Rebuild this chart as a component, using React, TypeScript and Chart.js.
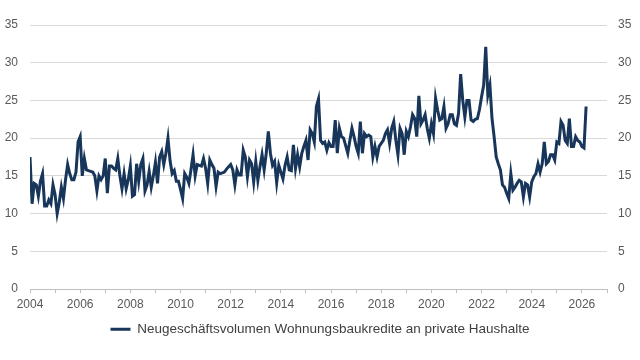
import { useEffect, useRef } from "react";
import { Chart, registerables } from "chart.js";

Chart.register(...registerables);

// Monthly series, January 2004 onwards (EUR bn)
const startYear = 2004;
const seriesLabel = "Neugeschäftsvolumen Wohnungsbaukredite an private Haushalte";

const volumes: number[] = [
  // 2004
  17.5, 11.3, 14.0, 13.8, 12.3, 14.3, 15.3, 11.0, 11.0, 11.8, 11.3, 13.8,
  // 2005
  12.5, 10.0, 11.5, 13.5, 12.0, 14.5, 16.5, 15.3, 14.5, 14.5, 15.5, 19.5,
  // 2006
  20.2, 15.0, 17.3, 15.8, 15.7, 15.6, 15.5, 15.0, 13.0, 15.0, 14.5, 15.0,
  // 2007
  17.3, 12.7, 16.3, 16.3, 16.0, 15.8, 17.3, 15.0, 13.3, 15.3, 13.3, 14.5,
  // 2008
  16.3, 12.3, 12.5, 16.6, 14.3, 16.5, 17.3, 13.0, 13.8, 15.6, 13.5, 15.0,
  // 2009
  16.8, 14.0, 17.5, 18.2, 16.5, 18.0, 20.0, 17.0, 15.3, 15.7, 14.3, 14.3,
  // 2010
  13.2, 12.0, 15.3, 14.8, 14.0, 15.8, 17.8, 15.0, 16.5, 16.4, 16.3, 17.3,
  // 2011
  16.0, 14.0, 17.1, 16.5, 16.0, 13.6, 15.5, 15.3, 15.4, 15.5, 15.9, 16.2,
  // 2012
  16.5, 15.8, 13.8, 15.8, 15.1, 15.1, 18.4, 17.5, 14.9, 17.1, 16.6, 14.2,
  // 2013
  16.9, 14.4, 16.2, 17.8, 15.8, 18.0, 20.9, 18.0, 16.4, 16.9, 14.1, 16.4,
  // 2014
  15.5, 14.6, 16.4, 17.5, 15.8, 15.7, 19.1, 16.0, 17.8, 16.2, 18.0, 18.9,
  // 2015
  19.7, 17.1, 21.1, 20.6, 19.5, 24.2, 25.2, 19.7, 19.3, 19.5, 18.4, 19.4,
  // 2016
  18.9, 18.9, 22.4, 18.0, 21.3, 20.2, 20.0, 19.0, 18.0, 19.7, 21.3, 20.2,
  // 2017
  18.9, 18.0, 22.2, 18.0, 20.6, 20.2, 20.4, 20.2, 17.5, 18.9, 17.5, 18.9,
  // 2018
  19.3, 19.7, 20.6, 21.1, 19.3, 21.3, 22.2, 19.7, 17.8, 21.3, 20.6, 17.8,
  // 2019
  20.9, 20.2, 21.5, 23.1, 22.6, 20.2, 25.6, 21.9, 22.4, 23.1, 21.3, 20.0,
  // 2020
  21.9, 20.6, 25.3, 23.7, 22.4, 22.6, 24.2, 21.3, 21.9, 23.1, 23.1, 21.9,
  // 2021
  21.7, 23.3, 28.5, 25.0, 22.8, 25.0, 25.0, 22.4, 22.2, 22.5, 22.6, 23.8,
  // 2022
  25.5, 27.0, 32.1, 25.7, 27.0, 22.6, 20.2, 17.5, 16.6, 15.8, 13.8, 13.5,
  // 2023
  12.7, 12.0, 15.3, 13.1, 13.5, 14.0, 14.4, 14.2, 12.2, 14.0, 13.8, 12.2,
  // 2024
  14.2, 14.9, 15.3, 16.6, 15.5, 16.6, 19.5, 16.6, 16.9, 17.8, 17.8, 17.1,
  // 2025
  19.5, 19.3, 22.2, 21.7, 19.7, 19.3, 22.6, 18.9, 18.9, 20.2, 19.7, 19.5,
  // 2026
  18.9, 18.7, 24.2,
];

const xMin = 2004;
const xMax = 2027;
const labelYears = [2004, 2006, 2008, 2010, 2012, 2014, 2016, 2018, 2020, 2022, 2024, 2026];
const yMin = 0;
const yMax = 35;
const yStep = 5;

const lineColor = "#18355a";
const textColor = "#595959";
const gridColor = "#d9d9d9";
const fontFamily = "Arial, 'Liberation Sans', sans-serif";

export default function App() {
  const canvasRef = useRef<HTMLCanvasElement | null>(null);

  useEffect(() => {
    document.body.style.margin = "0";
    const canvas = canvasRef.current;
    if (!canvas) return;

    const points = volumes.map((v, i) => ({ x: startYear + i / 12, y: v }));

    const yTickStyle = {
      color: textColor,
      font: { family: fontFamily, size: 12 },
      stepSize: yStep,
      padding: 12,
    };

    const chart = new Chart(canvas, {
      type: "line",
      data: {
        datasets: [
          {
            label: seriesLabel,
            data: points,
            borderColor: lineColor,
            backgroundColor: lineColor,
            borderWidth: 3,
            pointRadius: 0,
            tension: 0,
            yAxisID: "y",
          },
        ],
      },
      options: {
        responsive: false,
        animation: false,
        layout: { padding: { top: 25, bottom: 14, left: 0, right: 0 } },
        plugins: {
          tooltip: { enabled: false },
          legend: {
            position: "bottom",
            labels: {
              usePointStyle: true,
              pointStyle: "line",
              pointStyleWidth: 20,
              color: "#404040",
              font: { family: fontFamily, size: 13.5 },
              padding: 10,
            },
          },
        },
        scales: {
          x: {
            type: "linear",
            min: xMin,
            max: xMax,
            grid: {
              display: true,
              drawOnChartArea: false,
              drawTicks: true,
              tickLength: 4,
              color: "#bfbfbf",
            },
            border: { display: true, color: "#bfbfbf" },
            ticks: {
              stepSize: 1,
              autoSkip: false,
              maxRotation: 0,
              padding: 4,
              color: textColor,
              font: { family: fontFamily, size: 12 },
              callback: (value) => (labelYears.includes(Number(value)) ? String(value) : ""),
            },
            afterFit: (scale) => {
              scale.height = 23.5;
            },
          },
          y: {
            position: "left",
            min: yMin,
            max: yMax,
            grid: { color: gridColor, drawTicks: false, lineWidth: 1 },
            border: { display: false },
            ticks: yTickStyle,
            afterFit: (scale) => {
              scale.width = 30;
            },
          },
          y2: {
            position: "right",
            min: yMin,
            max: yMax,
            grid: { display: false, drawTicks: false },
            border: { display: false },
            ticks: { ...yTickStyle, padding: 11 },
            afterFit: (scale) => {
              scale.width = 33;
            },
          },
        },
      },
    });

    return () => chart.destroy();
  }, []);

  return (
    <div style={{ width: 640, height: 360, background: "#ffffff" }}>
      <canvas ref={canvasRef} width={640} height={360} />
    </div>
  );
}
